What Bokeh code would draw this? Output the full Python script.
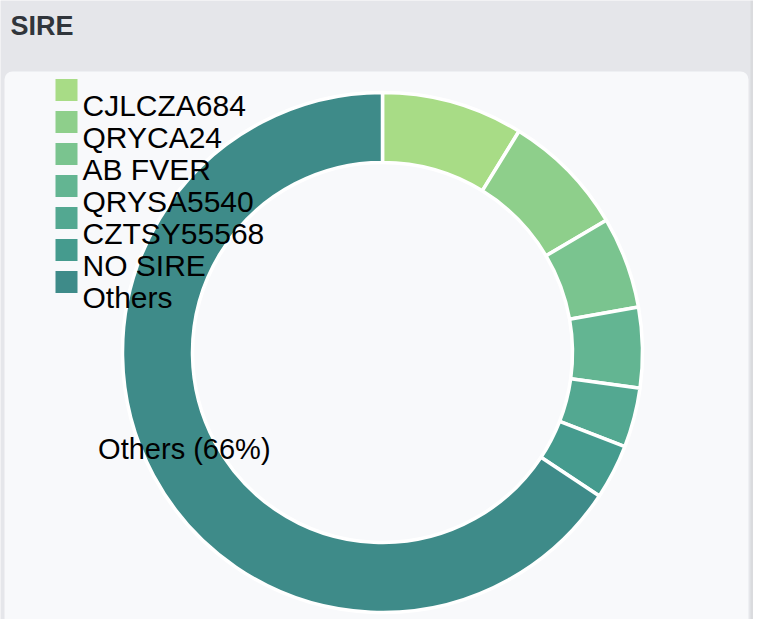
import math
from bokeh.plotting import figure
from bokeh.models import ColumnDataSource, Range1d, BoxAnnotation
from bokeh.core.properties import value
from bokeh.embed import file_html
from bokeh.resources import INLINE

# ---- data ----
categories = ["CJLCZA684", "QRYCA24", "AB FVER", "QRYSA5540", "CZTSY55568", "NO SIRE", "Others"]
shares = [8.8, 7.7, 5.7, 5.0, 3.7, 3.4, 65.7]
colors = ["#a8dc86", "#8ecf8b", "#7ac48f", "#63b592", "#53a891", "#459b8e", "#3e8b89"]
title_text = "SIRE"
labelled = ["Others"]

# ---- layout helpers (reference px -> figure data units) ----
W, H = 753, 619
def fx(px):
    return px
def fy(py):
    return H - py

p = figure(width=W, height=H, x_range=Range1d(0, W), y_range=Range1d(0, H),
           output_backend="svg", toolbar_location=None, min_border=0)
p.axis.visible = False
p.grid.visible = False
p.outline_line_color = None
p.background_fill_color = "#e5e6ea"
p.border_fill_color = "#e5e6ea"

# right shaded strip and card
p.add_layout(BoxAnnotation(left=fx(750), right=W + 10, fill_color="#dadbde", fill_alpha=1,
                           line_color=None, level="underlay"))
p.add_layout(BoxAnnotation(left=fx(4), right=fx(748), top=fy(71), bottom=fy(660),
                           fill_color="#f8f9fb", fill_alpha=1, line_color=None,
                           border_radius=8, level="underlay"))

# title
p.text(x=[fx(10)], y=[fy(25)], text=[title_text], text_font=value("Liberation Sans"),
       text_font_size="27px", text_font_style="bold", text_color="#30353b",
       text_baseline="alphabetic", text_align="left")

# donut
total = sum(shares)
cum = [0.0]
for v in shares:
    cum.append(cum[-1] + v / total)
start = [math.pi / 2 - 2 * math.pi * cum[i + 1] for i in range(len(shares))]
end = [math.pi / 2 - 2 * math.pi * cum[i] for i in range(len(shares))]
cx, cy = fx(382), fy(352)
r_in, r_out = 190, 260
src = ColumnDataSource(dict(cat=categories, val=shares, color=colors, start=start, end=end))
p.annular_wedge(x=cx, y=cy, inner_radius=r_in, outer_radius=r_out,
                start_angle="start", end_angle="end", fill_color="color",
                line_color="white", line_width=3.5, source=src)

# slice label(s)
lx, ly, lt = [], [], []
for i, c in enumerate(categories):
    if c in labelled:
        mid = math.pi / 2 - 2 * math.pi * (cum[i] + cum[i + 1]) / 2
        rm = (r_in + r_out) / 2
        lx.append(cx + rm * math.cos(mid))
        ly.append(cy + rm * math.sin(mid) + 10)
        lt.append(f"{c} ({round(shares[i] / total * 100)}%)")
p.text(x=lx, y=ly, text=lt, text_font=value("Liberation Sans"), text_font_size="29px",
       text_color="#000000", text_align="center", text_baseline="alphabetic")

# legend
n = len(categories)
sq_x = [fx(66)] * n
sq_y = [fy(89.5 + 32 * i) for i in range(n)]
p.rect(x=sq_x, y=sq_y, width=22, height=22, fill_color=colors, line_color=None)
tx = [fx(82)] * n
ty = [fy(104.5 + 32 * i) for i in range(n)]
p.text(x=tx, y=ty, text=categories, text_font=value("Liberation Sans"), text_font_size="30px",
       text_color="#000000", text_align="left", text_baseline="alphabetic")

open("out.html", "w").write(file_html(p, INLINE))
